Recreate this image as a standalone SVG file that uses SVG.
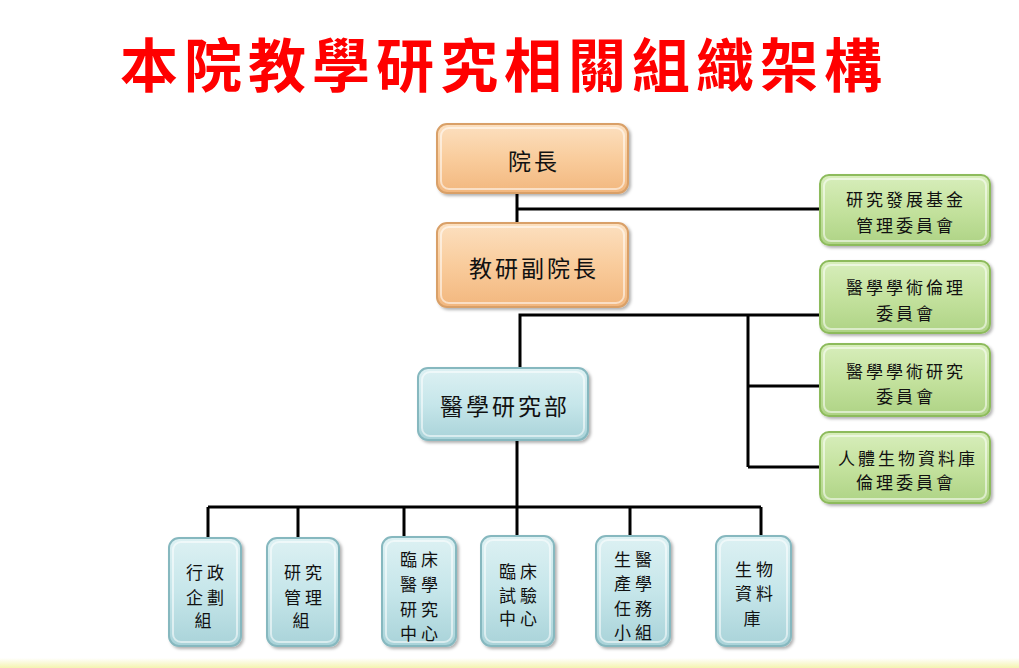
<svg xmlns="http://www.w3.org/2000/svg" width="1019" height="668" viewBox="0 0 1019 668">
<defs>
<linearGradient id="gOr" x1="0" y1="0" x2="0" y2="1"><stop offset="0" stop-color="#FCE0C0"/><stop offset="0.5" stop-color="#F9CC9C"/><stop offset="1" stop-color="#F2B77E"/></linearGradient>
<linearGradient id="gGr" x1="0" y1="0" x2="0" y2="1"><stop offset="0" stop-color="#D8EEBC"/><stop offset="0.5" stop-color="#C4E29E"/><stop offset="1" stop-color="#AED385"/></linearGradient>
<linearGradient id="gBl" x1="0" y1="0" x2="0" y2="1"><stop offset="0" stop-color="#DDF1F3"/><stop offset="0.5" stop-color="#C6E6EA"/><stop offset="1" stop-color="#A9D3D9"/></linearGradient>
<linearGradient id="gBot" x1="0" y1="0" x2="0" y2="1"><stop offset="0" stop-color="#FFFFFF"/><stop offset="1" stop-color="#F4F4B0"/></linearGradient>
<filter id="sh" x="-10%" y="-10%" width="125%" height="125%"><feDropShadow dx="2" dy="2" stdDeviation="1.5" flood-color="#000" flood-opacity="0.3"/></filter>
</defs>
<style>
.or{fill:url(#gOr);stroke:#D9A068;stroke-width:2;filter:url(#sh)}
.gr{fill:url(#gGr);stroke:#8DBB5C;stroke-width:2;filter:url(#sh)}
.bl{fill:url(#gBl);stroke:#86B8BF;stroke-width:2;filter:url(#sh)}
.in{fill:none;stroke:#FFFFFF;stroke-opacity:0.55;stroke-width:2}
.t{font-family:"Noto Sans CJK TC","Noto Sans CJK SC",sans-serif;fill:#111;text-anchor:middle;dominant-baseline:central}
.t24{font-size:23px;letter-spacing:3px}
.t18{font-size:17px;letter-spacing:3px}
.tb{font-size:17px;letter-spacing:4px}
.ln{stroke:#000;stroke-width:3;fill:none}
</style>
<rect x="0" y="0" width="1019" height="668" fill="#FFFFFF"/>
<rect x="0" y="658" width="1019" height="10" fill="url(#gBot)"/>
<text x="504" y="62" font-family="'Noto Sans CJK TC','Noto Sans CJK SC',sans-serif" font-size="58" font-weight="bold" fill="#FF0000" text-anchor="middle" dominant-baseline="central" letter-spacing="6">本院教學研究相關組織架構</text>

<g id="connectors">
<path class="ln" d="M517 193 V223 M517 209 H820"/>
<path class="ln" d="M520 368 V315 H820 M748 315 V467 M748 386 H820 M748 467 H820"/>
<path class="ln" d="M517 440 V507 M208 507 H761 M208 507 V538 M298 507 V538 M404 507 V537 M517 507 V536 M630 507 V536 M761 507 V536"/>
</g>

<g id="n-dean"><rect class="or" x="437" y="124" width="191" height="69" rx="10"/><rect class="in" x="441" y="128" width="183" height="61" rx="8"/><text class="t t24" x="534" y="160">院長</text></g>
<g id="n-vice"><rect class="or" x="437" y="223" width="191" height="84" rx="10"/><rect class="in" x="441" y="227" width="183" height="76" rx="8"/><text class="t t24" x="534" y="267">教研副院長</text></g>

<g id="n-fund"><rect class="gr" x="820" y="175" width="170" height="70" rx="9"/><rect class="in" x="824" y="179" width="162" height="62" rx="7"/><text class="t t18" x="906" y="198">研究發展基金</text><text class="t t18" x="906" y="224">管理委員會</text></g>
<g id="n-ethics"><rect class="gr" x="820" y="261" width="170" height="72" rx="9"/><rect class="in" x="824" y="265" width="162" height="64" rx="7"/><text class="t t18" x="906" y="286">醫學學術倫理</text><text class="t t18" x="906" y="312">委員會</text></g>
<g id="n-research"><rect class="gr" x="820" y="344" width="170" height="72" rx="9"/><rect class="in" x="824" y="348" width="162" height="64" rx="7"/><text class="t t18" x="906" y="370">醫學學術研究</text><text class="t t18" x="906" y="395">委員會</text></g>
<g id="n-biobank-ethics"><rect class="gr" x="820" y="432" width="170" height="71" rx="9"/><rect class="in" x="824" y="436" width="162" height="63" rx="7"/><text class="t t18" x="908" y="457">人體生物資料庫</text><text class="t t18" x="906" y="481">倫理委員會</text></g>

<g id="n-dept"><rect class="bl" x="418" y="368" width="170" height="72" rx="10"/><rect class="in" x="422" y="372" width="162" height="64" rx="8"/><text class="t t24" x="505" y="405">醫學研究部</text></g>

<g id="n-admin"><rect class="bl" x="169" y="538" width="72" height="108" rx="10"/><rect class="in" x="173" y="542" width="64" height="100" rx="8"/><text class="t tb" x="207" y="571">行政</text><text class="t tb" x="207" y="596">企劃</text><text class="t tb" x="205" y="619">組</text></g>
<g id="n-mgmt"><rect class="bl" x="267" y="538" width="72" height="108" rx="10"/><rect class="in" x="271" y="542" width="64" height="100" rx="8"/><text class="t tb" x="305" y="571">研究</text><text class="t tb" x="305" y="596">管理</text><text class="t tb" x="303" y="619">組</text></g>
<g id="n-clinres"><rect class="bl" x="382" y="537" width="74" height="109" rx="10"/><rect class="in" x="386" y="541" width="66" height="101" rx="8"/><text class="t tb" x="421" y="558">臨床</text><text class="t tb" x="421" y="583">醫學</text><text class="t tb" x="421" y="608">研究</text><text class="t tb" x="421" y="632">中心</text></g>
<g id="n-trial"><rect class="bl" x="481" y="536" width="73" height="110" rx="10"/><rect class="in" x="485" y="540" width="65" height="102" rx="8"/><text class="t tb" x="520" y="570">臨床</text><text class="t tb" x="520" y="594">試驗</text><text class="t tb" x="520" y="617">中心</text></g>
<g id="n-industry"><rect class="bl" x="596" y="536" width="74" height="110" rx="10"/><rect class="in" x="600" y="540" width="66" height="102" rx="8"/><text class="t tb" x="635" y="558">生醫</text><text class="t tb" x="635" y="582">產學</text><text class="t tb" x="635" y="607">任務</text><text class="t tb" x="635" y="631">小組</text></g>
<g id="n-biobank"><rect class="bl" x="716" y="536" width="75" height="110" rx="10"/><rect class="in" x="720" y="540" width="67" height="102" rx="8"/><text class="t tb" x="756" y="568">生物</text><text class="t tb" x="756" y="592">資料</text><text class="t tb" x="754" y="617">庫</text></g>
</svg>
